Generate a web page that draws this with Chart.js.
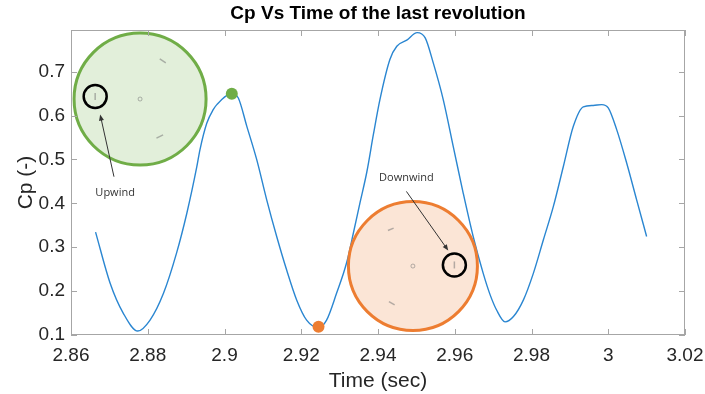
<!DOCTYPE html>
<html>
<head>
<meta charset="utf-8">
<script src="https://cdn.jsdelivr.net/npm/chart.js@4.4.1/dist/chart.umd.min.js"></script>
<style>
  html, body { margin: 0; padding: 0; background: #fff; }
  canvas { display: block; }
</style>
</head>
<body>
<canvas id="chart" width="705" height="394"></canvas>
<script>
// --- Data ---
const timeSec = [
    2.8664, 2.8702, 2.8736, 2.8774, 2.8806, 2.8841, 2.8875, 2.8902, 2.8928, 2.8936,
    2.8954, 2.8971, 2.8980, 2.9019, 2.9036, 2.9058, 2.9084, 2.9110, 2.9136, 2.9162,
    2.9188, 2.9214, 2.9245, 2.9266, 2.9292, 2.9318, 2.9336, 2.9353, 2.9371, 2.9388,
    2.9405, 2.9431, 2.9449, 2.9475, 2.9502, 2.9523, 2.9544, 2.9570, 2.9596, 2.9622,
    2.9648, 2.9674, 2.9692, 2.9709, 2.9731, 2.9753, 2.9779, 2.9805, 2.9831, 2.9857,
    2.9883, 2.9909, 2.9935, 2.9961, 2.9983, 3.0000, 3.0022, 3.0048, 3.0074, 3.0100
];
const cpValues = [
    0.3345, 0.218, 0.150, 0.109, 0.134, 0.195, 0.2865, 0.378, 0.484, 0.522,
    0.583, 0.614, 0.625, 0.650, 0.640, 0.576, 0.4995, 0.408, 0.3245, 0.248,
    0.180, 0.134, 0.117, 0.134, 0.195, 0.264, 0.333, 0.401, 0.472, 0.557,
    0.6365, 0.728, 0.758, 0.772, 0.789, 0.777, 0.720, 0.6365, 0.530, 0.4235,
    0.3245, 0.241, 0.192, 0.157, 0.130, 0.142, 0.180, 0.241, 0.317, 0.393,
    0.484, 0.5756, 0.620, 0.623, 0.625, 0.6176, 0.568, 0.492, 0.408, 0.3245
];

// highlighted instants: upwind (green) and downwind (orange)
const markerTime = [2.9019, 2.9245];
const markerCp = [0.650, 0.119];
const markerColors = ['#70ad47', '#ed7d31'];

const xTickValues = [2.86, 2.88, 2.9, 2.92, 2.94, 2.96, 2.98, 3, 3.02];
const xTickLabels = ['2.86', '2.88', '2.9', '2.92', '2.94', '2.96', '2.98', '3', '3.02'];
const yTickValues = [0.1, 0.2, 0.3, 0.4, 0.5, 0.6, 0.7];
const yTickLabels = ['0.1', '0.2', '0.3', '0.4', '0.5', '0.6', '0.7'];

// --- Inset drawings (rotor sketches), placed in data coordinates ---
const insets = [
    {
        center: [2.8780, 0.6377], radius: 66, fill: '#e2efda', stroke: '#70ad47',
        ring: [2.8663, 0.6434], label: 'Upwind', labelAt: [2.8715, 0.4242],
        arrowFrom: [2.8712, 0.4607], arrowTo: [2.8676, 0.6023],
        blades: [[19.7, -40.2, 25.7, -36.2], [16.4, 39.1, 23, 35.8]]
    },
    {
        center: [2.9491, 0.2571], radius: 64.5, fill: '#fbe5d6', stroke: '#ed7d31',
        ring: [2.9599, 0.2596], label: 'Downwind', labelAt: [2.9474, 0.4578],
        arrowFrom: [2.9474, 0.4272], arrowTo: [2.9583, 0.2925],
        blades: [[-25, -35.5, -19.3, -37.9], [-24, 35.5, -18.3, 38.8]]
    }
];

const FONT = "'Liberation Sans', Arial, Helvetica, sans-serif";
const TEXT = '#262626';

// --- Plugins ---
const axesBox = {
    id: 'axesBox',
    afterDraw(chart) {
        const { ctx, chartArea: a, scales: { x, y } } = chart;
        const tl = 6;
        ctx.save();
        ctx.strokeStyle = '#a6a6a6';
        ctx.lineWidth = 1;
        ctx.strokeRect(a.left + 0.5, a.top + 0.5, a.right - a.left - 1, a.bottom - a.top - 1);
        ctx.beginPath();
        xTickValues.forEach(v => {
            const px = Math.round(x.getPixelForValue(v)) + 0.5;
            ctx.moveTo(px, a.bottom); ctx.lineTo(px, a.bottom - tl);
            ctx.moveTo(px, a.top); ctx.lineTo(px, a.top + tl);
        });
        yTickValues.forEach(v => {
            const py = Math.round(y.getPixelForValue(v)) + 0.5;
            ctx.moveTo(a.left, py); ctx.lineTo(a.left + tl, py);
            ctx.moveTo(a.right, py); ctx.lineTo(a.right - tl, py);
        });
        ctx.stroke();
        ctx.restore();
    }
};

const drawArrow = (ctx, x1, y1, x2, y2) => {
    const ang = Math.atan2(y2 - y1, x2 - x1);
    ctx.beginPath();
    ctx.moveTo(x1, y1);
    ctx.lineTo(x2 - 4 * Math.cos(ang), y2 - 4 * Math.sin(ang));
    ctx.stroke();
    ctx.beginPath();
    ctx.moveTo(x2, y2);
    ctx.lineTo(x2 - 6 * Math.cos(ang) + 2.5 * Math.sin(ang), y2 - 6 * Math.sin(ang) - 2.5 * Math.cos(ang));
    ctx.lineTo(x2 - 6 * Math.cos(ang) - 2.5 * Math.sin(ang), y2 - 6 * Math.sin(ang) + 2.5 * Math.cos(ang));
    ctx.closePath();
    ctx.fill();
};

const rotorInsets = {
    id: 'rotorInsets',
    afterDatasetsDraw(chart) {
        const { ctx, scales: { x, y } } = chart;
        const px = p => [x.getPixelForValue(p[0]), y.getPixelForValue(p[1])];
        ctx.save();
        insets.forEach(ins => {
            const [cx, cy] = px(ins.center);
            // big disc
            ctx.beginPath();
            ctx.arc(cx, cy, ins.radius, 0, Math.PI * 2);
            ctx.fillStyle = ins.fill;
            ctx.fill();
            ctx.lineWidth = 3;
            ctx.strokeStyle = ins.stroke;
            ctx.stroke();
            // faint blades and hub
            ctx.strokeStyle = 'rgba(120,120,120,0.55)';
            ctx.lineWidth = 1.5;
            ins.blades.forEach(b => {
                ctx.beginPath();
                ctx.moveTo(cx + b[0], cy + b[1]);
                ctx.lineTo(cx + b[2], cy + b[3]);
                ctx.stroke();
            });
            ctx.lineWidth = 1;
            ctx.beginPath();
            ctx.arc(cx, cy, 2, 0, Math.PI * 2);
            ctx.stroke();
            // highlighted blade
            const [rx, ry] = px(ins.ring);
            ctx.lineWidth = 1.5;
            ctx.beginPath();
            ctx.moveTo(rx, ry - 3.5); ctx.lineTo(rx, ry + 3.5);
            ctx.stroke();
            ctx.beginPath();
            ctx.arc(rx, ry, 11.5, 0, Math.PI * 2);
            ctx.strokeStyle = '#000';
            ctx.lineWidth = 2.5;
            ctx.stroke();
            // arrow + label
            const [ax1, ay1] = px(ins.arrowFrom);
            const [ax2, ay2] = px(ins.arrowTo);
            ctx.strokeStyle = '#333';
            ctx.fillStyle = '#333';
            ctx.lineWidth = 1;
            drawArrow(ctx, ax1, ay1, ax2, ay2);
            const [lx, ly] = px(ins.labelAt);
            ctx.font = "11px 'Open Sans', sans-serif";
            ctx.textAlign = 'center';
            ctx.textBaseline = 'middle';
            ctx.fillText(ins.label, lx, ly);
        });
        ctx.restore();
    }
};

// --- Chart ---
const curve = timeSec.map((t, i) => ({ x: t, y: cpValues[i] }));
const markers = markerTime.map((t, i) => ({ x: t, y: markerCp[i] }));

new Chart(document.getElementById('chart'), {
    type: 'line',
    data: {
        datasets: [
            {
                label: 'markers',
                data: markers,
                showLine: false,
                pointRadius: 6,
                pointBorderWidth: 0,
                pointBackgroundColor: markerColors
            },
            {
                label: 'Cp',
                data: curve,
                borderColor: '#2a86d1',
                borderWidth: 1.4,
                pointRadius: 0,
                fill: false,
                cubicInterpolationMode: 'monotone'
            }
        ]
    },
    options: {
        responsive: false,
        animation: false,
        layout: { padding: { left: 0, right: 20, top: 0, bottom: 0 } },
        plugins: {
            legend: { display: false },
            tooltip: { enabled: false },
            title: {
                display: true,
                fullSize: false,
                text: 'Cp Vs Time of the last revolution',
                color: '#000',
                font: { family: FONT, size: 19, weight: 'bold' },
                padding: { top: 2, bottom: 5.2 }
            }
        },
        scales: {
            x: {
                type: 'linear',
                min: 2.86,
                max: 3.02,
                afterBuildTicks: s => { s.ticks = xTickValues.map(v => ({ value: v })); },
                afterFit: s => { s.height = 59; s.paddingRight = 20; },
                grid: { display: false, drawTicks: false },
                border: { display: false },
                ticks: {
                    padding: 9, color: TEXT, maxRotation: 0, autoSkip: false,
                    font: { family: FONT, size: 19 },
                    callback: (v, i) => xTickLabels[i]
                },
                title: {
                    display: true, text: 'Time (sec)', color: TEXT,
                    font: { family: FONT, size: 21 }, padding: 0
                }
            },
            y: {
                min: 0.1,
                max: 0.795,
                afterBuildTicks: s => { s.ticks = yTickValues.map(v => ({ value: v })); },
                afterFit: s => { s.width = 71; },
                grid: { display: false, drawTicks: false },
                border: { display: false },
                ticks: {
                    padding: 6, color: TEXT,
                    font: { family: FONT, size: 19 },
                    callback: (v, i) => yTickLabels[i]
                },
                title: {
                    display: true, text: 'Cp (-)', color: TEXT,
                    font: { family: FONT, size: 21 }, padding: { top: 14, bottom: 0 }
                }
            }
        }
    },
    plugins: [axesBox, rotorInsets]
});
</script>
</body>
</html>
